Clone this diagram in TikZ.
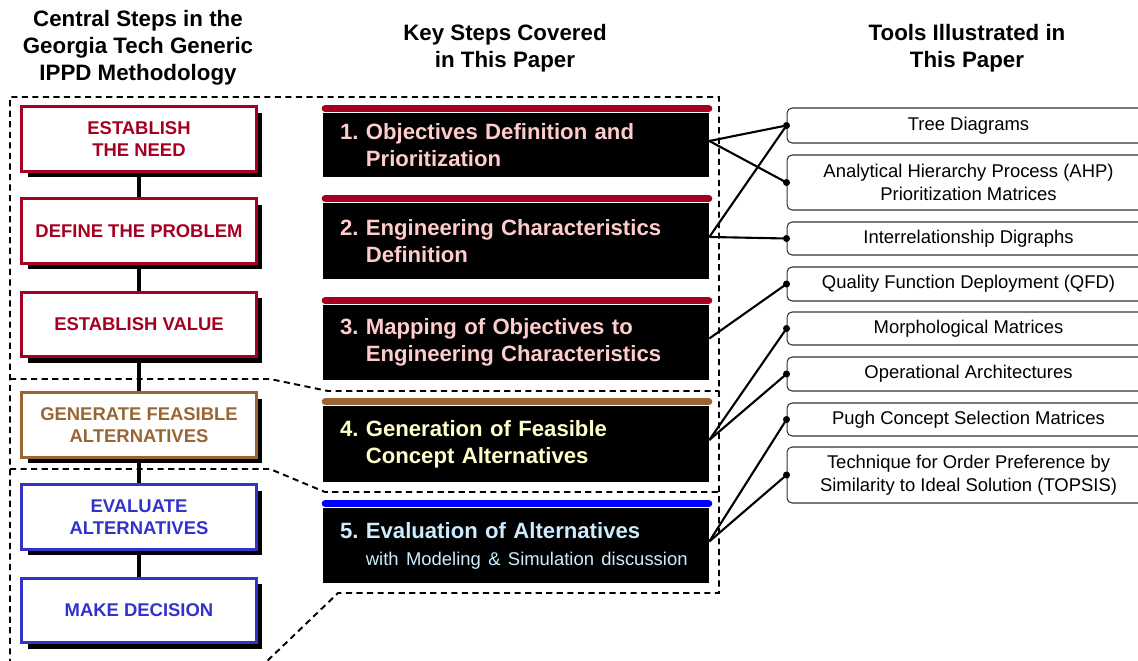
\documentclass[tikz,border=0pt]{standalone}
\usepackage{fontspec}
\setmainfont{Liberation Sans}
\frenchspacing
\usetikzlibrary{calc}
\usetikzlibrary{shadows}
\definecolor{needred}{HTML}{A50021}
\definecolor{genbrown}{HTML}{996633}
\definecolor{evalblue}{HTML}{3333CC}
\definecolor{barblue}{HTML}{0000FF}
\definecolor{pinktext}{HTML}{FFCCCC}
\definecolor{creamtext}{HTML}{FFFFCC}
\definecolor{skytext}{HTML}{CCECFF}
\tikzstyle{heading}=[align=center, font=\fontsize{12.7}{15.3}\selectfont\bfseries]
\tikzstyle{phase}=[draw, line width=1.9pt, fill=white, minimum width=4.69cm, minimum height=1.29cm, inner sep=0, align=center, font=\fontsize{10.5}{12.8}\selectfont\bfseries, drop shadow={shadow xshift=0.12cm, shadow yshift=-0.12cm, fill=black, opacity=1}]
\tikzstyle{keystep}=[fill=black, text width=7.04cm, inner xsep=0.34cm, inner ysep=0, align=left, font=\fontsize{12.6}{15.3}\selectfont\bfseries]
\tikzstyle{bar}=[line width=4pt, line cap=round]
\tikzstyle{tool}=[draw=black!80, line width=0.6pt, rounded corners=0.1cm, minimum width=7.26cm, inner sep=0, align=center, font=\fontsize{10.5}{12.8}\selectfont]
\tikzstyle{chain}=[line width=2.2pt]
\tikzstyle{link}=[line width=1.2pt]
\tikzstyle{region}=[line width=1.1pt, dash pattern=on 3.5pt off 2.5pt]

\begin{document}
\begin{tikzpicture}[x=0.02cm, y=-0.02cm]
    \useasboundingbox (0, 0) rectangle (1138, 660);
    \clip (0, 0) rectangle (1138, 660);

    % column headings
    \node[heading] (h_left) at (138, 48) {Central Steps in the\\Georgia Tech Generic\\IPPD Methodology};
    \node[heading] (h_mid) at (505, 48.5) {Key Steps Covered\\in This Paper};
    \node[heading] (h_right) at (967, 48.5) {Tools Illustrated in\\This Paper};

    % dashed regions
    \draw[region] (10, 665) -- (10, 97) -- (719, 97) -- (719, 593) -- (338, 593) -- (263, 665);
    \draw[region] (10, 379) -- (270, 379) -- (328, 391) -- (719, 391);
    \draw[region] (10, 469) -- (270, 469) -- (325, 492) -- (719, 492);

    % IPPD phases
    \node[phase, draw=needred, text=needred] (need) at (139, 139) {ESTABLISH\\THE NEED};
    \node[phase, draw=needred, text=needred] (problem) at (139, 231) {DEFINE THE PROBLEM};
    \node[phase, draw=needred, text=needred] (value) at (139, 324.5) {ESTABLISH VALUE};
    \node[phase, draw=genbrown, text=genbrown] (generate) at (139, 425) {GENERATE FEASIBLE\\ALTERNATIVES};
    \node[phase, draw=evalblue, text=evalblue] (evaluate) at (139, 517) {EVALUATE\\ALTERNATIVES};
    \node[phase, draw=evalblue, text=evalblue] (decide) at (139, 610.5) {MAKE DECISION};

    \draw[chain] (need) -- (problem);
    \draw[chain] (problem) -- (value);
    \draw[chain] (value) -- (generate);
    \draw[chain] (generate) -- (evaluate);
    \draw[chain] (evaluate) -- (decide);

    % key steps
    \node[keystep, minimum height=1.28cm, text=pinktext] (s_one) at (516, 145) {1. Objectives Definition and\\\phantom{1. }Prioritization};
    \node[keystep, minimum height=1.52cm, text=pinktext] (s_two) at (516, 241) {2. Engineering Characteristics\\\phantom{2. }Definition};
    \node[keystep, minimum height=1.5cm, text=pinktext] (s_three) at (516, 342.5) {3. Mapping of Objectives to\\\phantom{3. }Engineering Characteristics};
    \node[keystep, minimum height=1.52cm, text=creamtext] (s_four) at (516, 444) {4. Generation of Feasible\\\phantom{4. }Concept Alternatives};
    \node[keystep, minimum height=1.5cm, text=skytext] (s_five) at (516, 545.5) {5. Evaluation of Alternatives\\\phantom{5. }{\mdseries\fontsize{10.5}{12.8}\selectfont with Modeling \& Simulation discussion}};

    \draw[bar, needred] ($(s_one.north west)+(2.5, -4)$) -- ($(s_one.north east)+(-0.5, -4)$);
    \draw[bar, needred] ($(s_two.north west)+(2.5, -4)$) -- ($(s_two.north east)+(-0.5, -4)$);
    \draw[bar, needred] ($(s_three.north west)+(2.5, -4)$) -- ($(s_three.north east)+(-0.5, -4)$);
    \draw[bar, genbrown] ($(s_four.north west)+(2.5, -4)$) -- ($(s_four.north east)+(-0.5, -4)$);
    \draw[bar, barblue] ($(s_five.north west)+(2.5, -4)$) -- ($(s_five.north east)+(-0.5, -4)$);

    % tools
    \node[tool, minimum height=0.7cm] (t_tree) at (968.5, 125.5) {Tree Diagrams};
    \node[tool, minimum height=1.1cm] (t_ahp) at (968.5, 182.5) {Analytical Hierarchy Process (AHP)\\Prioritization Matrices};
    \node[tool, minimum height=0.66cm] (t_digraph) at (968.5, 238.5) {Interrelationship Digraphs};
    \node[tool, minimum height=0.68cm] (t_qfd) at (968.5, 284) {Quality Function Deployment (QFD)};
    \node[tool, minimum height=0.66cm] (t_morph) at (968.5, 328.5) {Morphological Matrices};
    \node[tool, minimum height=0.68cm] (t_oparch) at (968.5, 374) {Operational Architectures};
    \node[tool, minimum height=0.66cm] (t_pugh) at (968.5, 419.5) {Pugh Concept Selection Matrices};
    \node[tool, minimum height=1.12cm] (t_topsis) at (968.5, 475) {Technique for Order Preference by\\Similarity to Ideal Solution (TOPSIS)};

    \draw[link] ([yshift=2.3pt]s_one.east) -- (t_tree.west);
    \draw[link] ([yshift=2.3pt]s_one.east) -- (t_ahp.west);
    \draw[link] ([yshift=2.3pt]s_two.east) -- (t_tree.west);
    \draw[link] ([yshift=2.3pt]s_two.east) -- (t_digraph.west);
    \draw[link] ([yshift=2.3pt]s_three.east) -- (t_qfd.west);
    \draw[link] ([yshift=2.3pt]s_four.east) -- (t_morph.west);
    \draw[link] ([yshift=2.3pt]s_four.east) -- (t_oparch.west);
    \draw[link] ([yshift=2.3pt]s_five.east) -- (t_pugh.west);
    \draw[link] ([yshift=2.3pt]s_five.east) -- (t_topsis.west);

    \fill (t_tree.west) circle (2pt);
    \fill (t_ahp.west) circle (2pt);
    \fill (t_digraph.west) circle (2pt);
    \fill (t_qfd.west) circle (2pt);
    \fill (t_morph.west) circle (2pt);
    \fill (t_oparch.west) circle (2pt);
    \fill (t_pugh.west) circle (2pt);
    \fill (t_topsis.west) circle (2pt);
  \end{tikzpicture}
\end{document}
